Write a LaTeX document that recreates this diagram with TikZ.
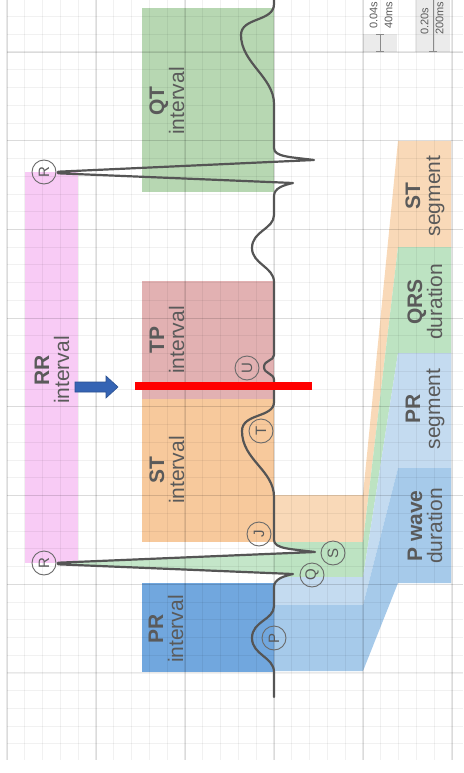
\documentclass[tikz,border=0pt]{standalone}
\usepackage{fontspec}
\setmainfont{Liberation Sans}
\definecolor{txtgray}{HTML}{5A5A5A}
\definecolor{circgray}{HTML}{6A6A6A}
\definecolor{wavegray}{HTML}{555555}
\definecolor{rrpink}{HTML}{F8CBF5}
\definecolor{qtgreen}{HTML}{B7D7B2}
\definecolor{tprose}{HTML}{E2B1B2}
\definecolor{storange}{HTML}{F7C99C}
\definecolor{prblue}{HTML}{71A7DE}
\definecolor{stseg}{HTML}{F9D9B8}
\definecolor{qrsgreen}{HTML}{BDE3C2}
\definecolor{prseg}{HTML}{C4DBF0}
\definecolor{pwave}{HTML}{A6CAEA}
\definecolor{rfill}{HTML}{C4E6C9}
\definecolor{scalegray}{HTML}{EBEBEB}
\definecolor{bargray}{HTML}{8A8A8A}
\definecolor{arrowblue}{HTML}{3564B4}
\begin{document}
\begin{tikzpicture}[x=1pt,y=-1pt,
  lab/.style={rotate=90, align=center, text=txtgray, inner sep=0pt, font=\fontsize{21}{20}\selectfont},
  ptlab/.style={circle, draw=circgray, line width=0.9pt, minimum size=24pt, inner sep=0pt, rotate=90, text=txtgray, font=\fontsize{15}{15}\selectfont},
  wave/.style={draw=wavegray, line width=2.2pt, line join=round, line cap=round},
  minorgrid/.style={draw=black, draw opacity=0.055, line width=0.8pt},
  majorgrid/.style={draw=black, draw opacity=0.09, line width=1.1pt},
  scalelab/.style={rotate=90, anchor=west, align=left, text=txtgray, inner sep=0pt, font=\fontsize{11}{15}\selectfont},
  scalebar/.style={draw=bargray, line width=1pt}]
\useasboundingbox (0,0) rectangle (463,773);
\fill[white] (0,0) rectangle (463,773);

% interval boxes
\fill[rrpink] (25,172) rectangle (78,563);
\fill[qtgreen] (142,8) rectangle (274,192);
\fill[tprose] (142,281) rectangle (274,399);
\fill[storange] (142,399) rectangle (274,542);
\fill[prblue] (142,583) rectangle (274,672);

% segment / duration bands
\fill[stseg] (274,495) -- (363,495) -- (398,141) -- (451,141) -- (451,247) -- (398,247) -- (363,542) -- (274,542) -- cycle;
\fill[qrsgreen] (274,542) -- (363,542) -- (398,247) -- (451,247) -- (451,353) -- (398,353) -- (363,577) -- (274,577) -- cycle;
\fill[prseg] (274,577) -- (363,577) -- (398,353) -- (451,353) -- (451,468) -- (398,468) -- (363,605) -- (274,605) -- cycle;
\fill[pwave] (274,605) -- (363,605) -- (398,468) -- (451,468) -- (451,583) -- (398,583) -- (363,671) -- (274,671) -- cycle;

% scale backgrounds
\fill[scalegray] (363,34.3) rectangle (397,52);
\fill[scalegray] (415,0) rectangle (450,52);

% R wave area and S/Q areas
\fill[rfill] (274,573.2) -- (58,564.3) -- (58,562.7) -- (274,553.7) -- cycle;
\fill[white] (274,553.7) -- (315,552) .. controls (292,549) and (274,549) .. (274,540) -- cycle;
\fill[white] (274,587) .. controls (274,579) and (284,576) .. (293,574) -- (274,573.2) -- cycle;

% grid
\foreach \k in {0,...,25} {
  \pgfmathsetmacro\xx{7+17.8*\k}
  \draw[minorgrid] (\xx,0) -- (\xx,760);
}
\foreach \k in {0,5,...,25} {
  \pgfmathsetmacro\xx{7+17.8*\k}
  \draw[majorgrid] (\xx,0) -- (\xx,760);
}
\foreach \j in {-2,...,39} {
  \pgfmathsetmacro\yy{52+17.74*\j}
  \draw[minorgrid] (7,\yy) -- (463,\yy);
}
\foreach \j in {0,5,...,35} {
  \pgfmathsetmacro\yy{52+17.74*\j}
  \draw[majorgrid] (7,\yy) -- (463,\yy);
}

% ECG trace
\draw[wave] (274,697) -- (274,672)
 .. controls (274,657) and (252,655) .. (252,638)
 .. controls (252,621) and (274,620) .. (274,606)
 -- (274,587)
 .. controls (274,579) and (284,576) .. (293,574)
 -- (58,564.3) -- (58,562.7)
 -- (315,552)
 .. controls (292,549) and (274,549) .. (274,540)
 -- (274,497)
 .. controls (274,470) and (242,460) .. (242,431)
 .. controls (242,413) and (274,418) .. (274,402)
 -- (274,380)
 .. controls (274,373) and (264,374) .. (264,367)
 .. controls (264,360) and (274,361) .. (274,355)
 -- (274,282)
 .. controls (274,267) and (252,264) .. (252,248)
 .. controls (252,231) and (274,229) .. (274,215)
 -- (274,196)
 .. controls (274,188) and (284,185) .. (293,183)
 -- (58,173.3) -- (58,171.7)
 -- (314,160)
 .. controls (291,157) and (274,157) .. (274,148)
 -- (274,104)
 .. controls (274,77) and (241,63) .. (241,35)
 .. controls (241,17) and (274,22) .. (274,4)
 -- (274,-10);

% point labels
\node[ptlab] (cR1) at (44,563) {R};
\node[ptlab] (cR2) at (44,172) {R};
\node[ptlab] (cP) at (274,638) {P};
\node[ptlab] (cQ) at (312,575) {Q};
\node[ptlab] (cS) at (333,553) {S};
\node[ptlab] (cJ) at (259,534) {J};
\node[ptlab] (cT) at (261,431) {T};
\node[ptlab] (cU) at (247,368) {U};

% interval labels
\node[lab] (tRR) at (52,370) {\textbf{RR}\\interval};
\node[lab] (tQT) at (167,101) {\textbf{QT}\\interval};
\node[lab] (tTP) at (167,340) {\textbf{TP}\\interval};
\node[lab] (tST) at (167,470) {\textbf{ST}\\interval};
\node[lab] (tPR) at (166,629) {\textbf{PR}\\interval};
\node[lab] (tSTs) at (425,196) {\textbf{ST}\\segment};
\node[lab] (tQRS) at (425,302) {\textbf{QRS}\\duration};
\node[lab] (tPRs) at (425,409) {\textbf{PR}\\segment};
\node[lab] (tPw) at (425,526) {\textbf{P wave}\\duration};

% scale
\draw[scalebar] (380,34.3) -- (380,52);
\draw[scalebar] (376,34.3) -- (384,34.3);
\draw[scalebar] (376,52) -- (384,52);
\draw[scalebar] (433,-40) -- (433,52);
\draw[scalebar] (429,52) -- (437,52);
\node[scalelab] (s1) at (381,29) {0.04s\\40ms};
\node[scalelab] (s2) at (432,35) {0.20s\\200ms};

% marker arrow and red line
\fill[arrowblue, draw=arrowblue!80!black, line width=0.6pt] (75,382) -- (106,382) -- (106,376) -- (118,387) -- (106,398) -- (106,392) -- (75,392) -- cycle;
\draw[red, line width=8.5pt] (135,386) -- (312,386);
\end{tikzpicture}
\end{document}
